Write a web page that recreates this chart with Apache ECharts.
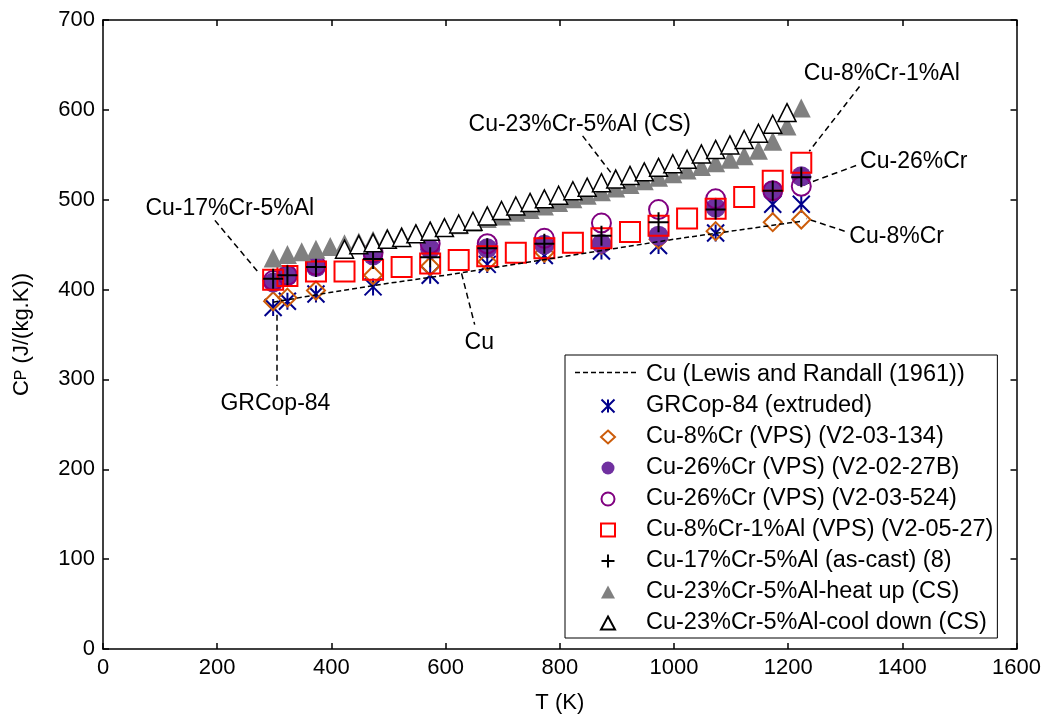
<!DOCTYPE html>
<html><head><meta charset="utf-8">
<script src="https://cdn.jsdelivr.net/npm/echarts@6/dist/echarts.min.js"></script>
<style>html,body{margin:0;padding:0;background:#fff}#c{width:1044px;height:719px}</style>
</head><body><div id="c"></div>
<script>
// ---------------- data ----------------
const xTicks = [0, 200, 400, 600, 800, 1000, 1200, 1400, 1600];
const yTicks = [0, 100, 200, 300, 400, 500, 600, 700];

const cuT      = [298, 400, 500, 600, 700, 800, 900, 1000, 1100, 1200, 1223];
const cuCp     = [386, 397, 407, 416, 426, 436, 446, 456, 465, 474, 476];

const clusterT = [298, 323, 373, 473, 573, 673, 773, 873, 973, 1073, 1173, 1223];
const grcop84  = [380, 387, 395, 403, 416, 428, 438, 443, 449, 463, 495, 495];
const cu8cr    = [387, 391, 399, 416, 426, 431, 441, 450, 456, 465, 475, 478];
const cu26crB  = [408, 415, 425, 438, 445, 446, 450, 451, 460, 491, 510, 526];
const cu26cr524= [410, 416, 427, 441, 451, 451, 457, 474, 489, 501, 510, 515];
const cu17cr5al= [412, 416, 425, 434, 436, 446, 451, 460, 475, 489, 510, 525];

const cu8cr1alT= [298, 323, 373, 423, 473, 523, 573, 623, 673, 723, 773, 823, 873, 923, 973, 1023, 1073, 1123, 1173, 1223];
const cu8cr1al = [411, 415, 420, 420, 422, 425, 429, 433, 437, 441, 446, 452, 457, 464, 471, 479, 490, 503, 521, 541];

const heatT = [298,323,348,373,398,423,448,473,498,523,548,573,598,623,648,673,698,723,748,773,798,823,848,873,898,923,948,973,998,1023,1048,1073,1098,1123,1148,1173,1198,1223];
const heatCp= [435,439,442,445,448,451,453,455,458,460,463,466,469,472,475,479,482,486,489,493,497,501,505,509,513,517,521,525,529,533,537,541,545,549,555,565,582,602];

const coolT = [423,448,473,498,523,548,573,598,623,648,673,698,723,748,773,798,823,848,873,898,923,948,973,998,1023,1048,1073,1098,1123,1148,1173,1198];
const coolCp= [445,450,452,456,458,462,465,469,473,476,482,488,493,497,501,505,510,514,519,523,527,531,536,540,545,551,556,561,567,574,584,597];

const seriesNames = [
  'Cu (Lewis and Randall (1961))',
  'GRCop-84 (extruded)',
  'Cu-8%Cr (VPS) (V2-03-134)',
  'Cu-26%Cr (VPS) (V2-02-27B)',
  'Cu-26%Cr (VPS) (V2-03-524)',
  'Cu-8%Cr-1%Al (VPS) (V2-05-27)',
  'Cu-17%Cr-5%Al (as-cast) (8)',
  'Cu-23%Cr-5%Al-heat up (CS)',
  'Cu-23%Cr-5%Al-cool down (CS)'
];

// annotation labels: text, text anchor [T, Cp], pointer from [T, Cp] to [T, Cp]
const annText   = ['Cu-17%Cr-5%Al', 'GRCop-84', 'Cu', 'Cu-23%Cr-5%Al (CS)', 'Cu-8%Cr-1%Al', 'Cu-26%Cr', 'Cu-8%Cr'];
const annAt     = [[222, 490], [302, 273], [659, 341], [835, 583], [1364, 640], [1420, 542], [1390, 459]];
const annFrom   = [[196, 477], [305, 372], [628, 418], [840, 571], [1325, 626], [1319, 538], [1299, 465]];
const annTo     = [[271, 420], [305, 293], [651, 361], [891, 529], [1237, 554], [1225, 516], [1232, 479]];

// ---------------- chart ----------------
const FONT = '"Liberation Sans", Arial, Helvetica, sans-serif';
const pairs = (xs, ys) => xs.map((x, i) => [x, ys[i]]);
const chart = echarts.init(document.getElementById('c'), null, {renderer: 'canvas'});

const axLine = {onZero: false, lineStyle: {color: '#000', width: 1.5}};
const axTick = {inside: true, length: 6, lineStyle: {color: '#000', width: 1.5}};
const plainNum = v => String(v);

const ASTER = 'path://M0,0L10,10M10,0L0,10M5,0L5,10';
const PLUS  = 'path://M5,0L5,10M0,5L10,5';

const legendData = seriesNames.map((n, i) => i === 0 ? {name: n, icon: 'none'} : {name: n});

const LEG = {left: 565, top: 355, padTop: 8, padLeft: 35};

const option = {
  animation: false,
  backgroundColor: '#fff',
  textStyle: {fontFamily: FONT},
  grid: {left: 103, top: 20, right: 27, bottom: 66, containLabel: false},
  xAxis: [
    {type: 'value', min: xTicks[0], max: xTicks[xTicks.length - 1], interval: 200, position: 'bottom',
     name: 'T (K)', nameLocation: 'middle', nameGap: 43,
     nameTextStyle: {fontSize: 22, color: '#000', fontFamily: FONT},
     axisLine: axLine, axisTick: axTick,
     axisLabel: {fontSize: 22, color: '#000', margin: 8, fontFamily: FONT, formatter: plainNum},
     splitLine: {show: false}},
    {type: 'value', min: xTicks[0], max: xTicks[xTicks.length - 1], interval: 200, position: 'top',
     axisLine: axLine, axisTick: axTick, axisLabel: {show: false}, splitLine: {show: false}}
  ],
  yAxis: [
    {type: 'value', min: yTicks[0], max: yTicks[yTicks.length - 1], interval: 100, position: 'left',
     name: '{c|C}{p|P}{c| (J/(kg.K))}', nameLocation: 'middle', nameGap: 70, nameRotate: 90,
     nameTextStyle: {color: '#000', fontFamily: FONT,
       rich: {c: {fontSize: 22, fontFamily: FONT, color: '#000'}, p: {fontSize: 16, fontFamily: FONT, color: '#000'}}},
     axisLine: axLine, axisTick: axTick,
     axisLabel: {fontSize: 22, color: '#000', margin: 8, fontFamily: FONT, formatter: plainNum},
     splitLine: {show: false}},
    {type: 'value', min: yTicks[0], max: yTicks[yTicks.length - 1], interval: 100, position: 'right',
     axisLine: axLine, axisTick: axTick, axisLabel: {show: false}, splitLine: {show: false}}
  ],
  legend: {
    orient: 'vertical', left: LEG.left, top: LEG.top,
    padding: [LEG.padTop, 4, 3, LEG.padLeft],
    itemWidth: 14, itemHeight: 13, itemGap: 7,
    borderColor: '#000', borderWidth: 1, backgroundColor: '#fff',
    selectedMode: false,
    textStyle: {fontSize: 23.5, fontFamily: FONT, color: '#000', lineHeight: 23, padding: [0, 0, 0, 26]},
    data: legendData
  },
  graphic: [
    {type: 'line', z: 100,
     shape: {x1: 575, y1: LEG.top + LEG.padTop + 9.5, x2: 638, y2: LEG.top + LEG.padTop + 9.5},
     style: {stroke: '#000', lineWidth: 1.5, lineDash: [5, 3]}}
  ],
  series: [
    {type: 'lines', coordinateSystem: 'cartesian2d', silent: true, z: 1,
     lineStyle: {color: '#000', width: 1.5, type: [6, 4], opacity: 1},
     data: annFrom.map((f, i) => ({coords: [f, annTo[i]]}))},
    {type: 'scatter', silent: true, symbolSize: 0, z: 1,
     itemStyle: {opacity: 1},
     label: {show: true, position: 'inside', formatter: '{b}', fontSize: 23, color: '#000', fontFamily: FONT},
     data: annAt.map((p, i) => ({name: annText[i], value: p}))},
    {name: seriesNames[0], type: 'line', data: pairs(cuT, cuCp), showSymbol: false, symbol: 'none',
     lineStyle: {color: '#000', width: 1.5, type: [5, 3]}, itemStyle: {color: '#000'}},
    {name: seriesNames[1], type: 'scatter', data: pairs(clusterT, grcop84), symbol: ASTER, symbolSize: 17,
     itemStyle: {color: 'rgba(0,0,0,0)', borderColor: '#00008B', borderWidth: 2, opacity: 1}},
    {name: seriesNames[2], type: 'scatter', data: pairs(clusterT, cu8cr), symbol: 'diamond', symbolSize: 18,
     itemStyle: {color: 'rgba(0,0,0,0)', borderColor: '#CC5C0A', borderWidth: 2, opacity: 1}},
    {name: seriesNames[3], type: 'scatter', data: pairs(clusterT, cu26crB), symbol: 'circle', symbolSize: 20,
     itemStyle: {color: '#7030A0', borderColor: '#7030A0', borderWidth: 0, opacity: 1}},
    {name: seriesNames[4], type: 'scatter', data: pairs(clusterT, cu26cr524), symbol: 'circle', symbolSize: 19,
     itemStyle: {color: 'rgba(0,0,0,0)', borderColor: '#800080', borderWidth: 2, opacity: 1}},
    {name: seriesNames[5], type: 'scatter', data: pairs(cu8cr1alT, cu8cr1al), symbol: 'rect', symbolSize: 20,
     itemStyle: {color: 'rgba(0,0,0,0)', borderColor: '#FF0000', borderWidth: 2, opacity: 1}},
    {name: seriesNames[6], type: 'scatter', data: pairs(clusterT, cu17cr5al), symbol: PLUS, symbolSize: 20,
     itemStyle: {color: 'rgba(0,0,0,0)', borderColor: '#000', borderWidth: 2, opacity: 1}},
    {name: seriesNames[7], type: 'scatter', data: pairs(heatT, heatCp), symbol: 'triangle', symbolSize: 19,
     itemStyle: {color: '#808080', borderColor: '#808080', borderWidth: 0, opacity: 1}},
    {name: seriesNames[8], type: 'scatter', data: pairs(coolT, coolCp), symbol: 'triangle', symbolSize: 18,
     itemStyle: {color: '#fff', borderColor: '#000', borderWidth: 1.5, opacity: 1}}
  ]
};
chart.setOption(option);
</script>
</body></html>
